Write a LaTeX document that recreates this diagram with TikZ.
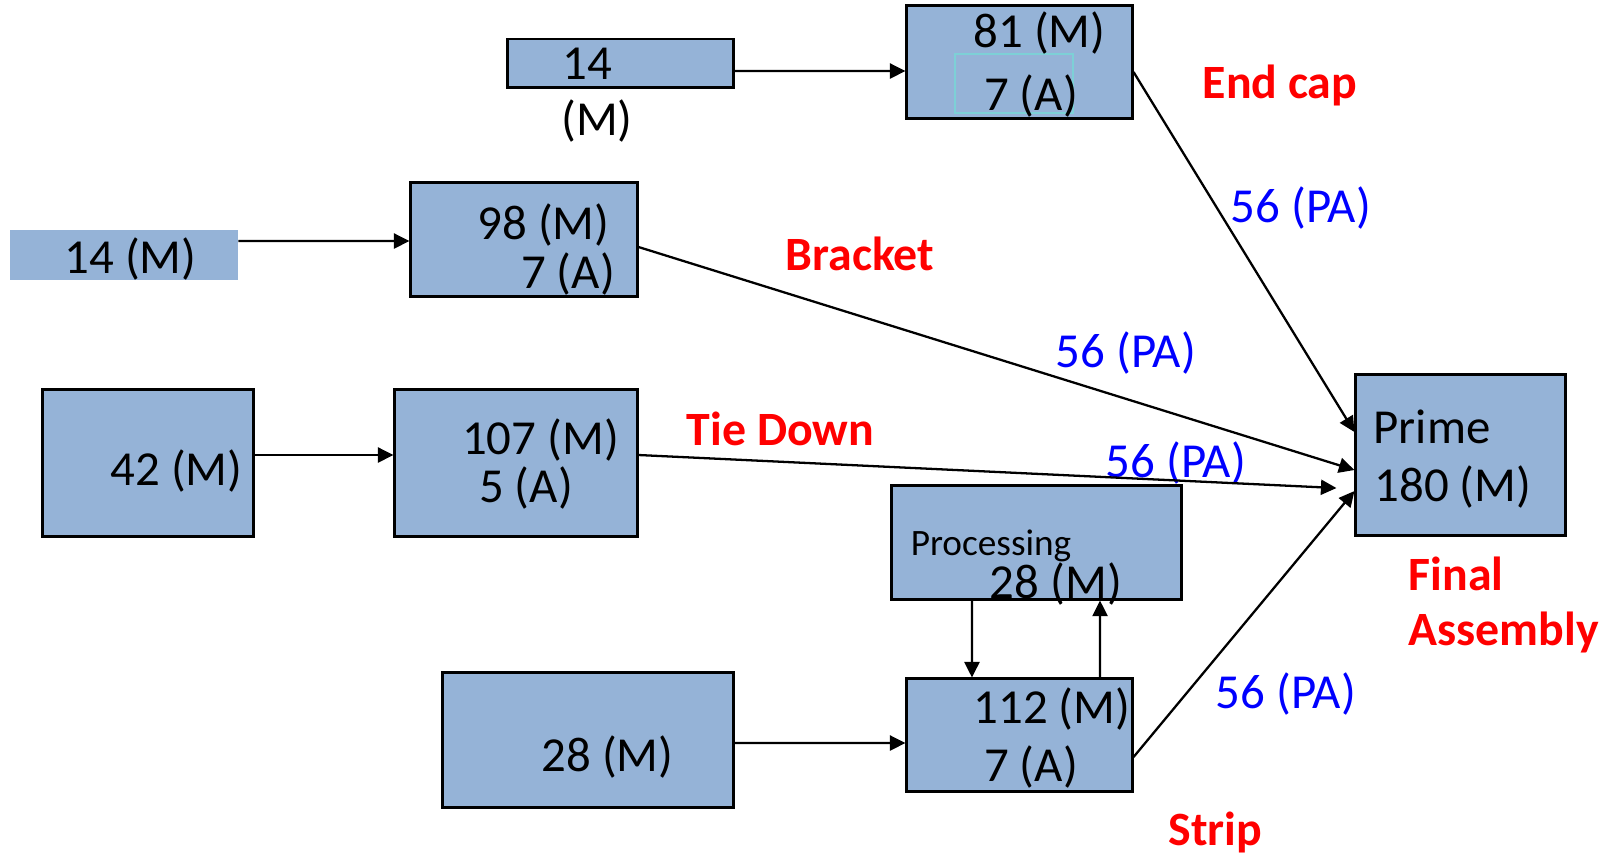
\documentclass[tikz,border=0pt]{standalone}
\usepackage{fontspec}
\setmainfont{Carlito}
\usetikzlibrary{arrows.meta, positioning}
\definecolor{partblue}{RGB}{149,179,215}
\definecolor{stagered}{RGB}{255,0,0}
\definecolor{flowblue}{RGB}{0,0,255}
\definecolor{paleteal}{RGB}{125,208,214}

\begin{document}
\begin{tikzpicture}[
    x=0.01cm, y=-0.01cm,
    box/.style={rectangle, draw=black, fill=partblue, line width=0.85pt, inner sep=0pt},
    plainbox/.style={rectangle, fill=partblue, inner sep=0pt},
    num/.style={inner sep=0pt, font=\fontsize{13.9}{16.7}\selectfont},
    smallnum/.style={inner sep=0pt, font=\fontsize{10.6}{12.7}\selectfont},
    stage/.style={inner sep=0pt, anchor=base west, text=stagered, font=\fontsize{13.6}{16.3}\selectfont\bfseries},
    flow/.style={inner sep=0pt, anchor=base west, text=flowblue, font=\fontsize{13.9}{16.7}\selectfont},
    arrow/.style={-{Triangle[length=0.155cm, width=0.15cm]}, line width=0.65pt}
]
\useasboundingbox (0,0) rectangle (1614,856);

% End cap line
\node[box, minimum width=2.25cm, minimum height=0.48cm] (top14) at (620.5,63) {};
\node[num] (top14n) at (587,63.5) {14};
\node[num] (top14m) at (597,121) {(M)};
\node[box, minimum width=2.25cm, minimum height=1.12cm] (endcap) at (1019.5,62) {};
\node[draw=paleteal, line width=0.5pt, minimum width=1.18cm, minimum height=0.59cm] (endcapmark) at (1014,83.5) {};
\node[num] (endcapm) at (1039.5,33) {81 (M)};
\node[num] (endcapa) at (1031,96) {7 (A)};

% Bracket line
\node[plainbox, minimum width=2.27cm, minimum height=0.5cm] (side14) at (124,255) {};
\node[num] (side14m) at (130.5,259) {14 (M)};
\node[box, minimum width=2.26cm, minimum height=1.13cm] (bracket) at (524,239.5) {};
\node[num] (bracketm) at (543.5,224.5) {98 (M)};
\node[num] (bracketa) at (568,274) {7 (A)};

% Tie down line
\node[box, minimum width=2.1cm, minimum height=1.46cm] (src42) at (148,463) {};
\node[num] (src42m) at (176.5,471) {42 (M)};
\node[box, minimum width=2.42cm, minimum height=1.46cm] (tiedown) at (516,463) {};
\node[num] (tiedownm) at (540.6,440) {107 (M)};
\node[num] (tiedowna) at (526,488) {5 (A)};

% Strip line with processing loop
\node[box, minimum width=2.89cm, minimum height=1.13cm] (proc) at (1036.5,542.5) {};
\node[smallnum] (proclabel) at (991,546) {Processing};
\node[num] (procm) at (1056,584) {28 (M)};
\node[box, minimum width=2.9cm, minimum height=1.34cm] (src28) at (588,740) {};
\node[num] (src28m) at (607.5,757) {28 (M)};
\node[box, minimum width=2.25cm, minimum height=1.12cm] (strip) at (1019.5,735) {};
\node[num] (stripm) at (1052,709) {112 (M)};
\node[num] (stripa) at (1031,767) {7 (A)};

% Final assembly
\node[box, minimum width=2.09cm, minimum height=1.6cm] (prime) at (1460.5,455) {};
\node[num] (primename) at (1432,427) {Prime};
\node[num] (primem) at (1453,487) {180 (M)};

% Stage names
\node[stage] (lblendcap) at (1202,98) {End cap};
\node[stage] (lblbracket) at (785,270) {Bracket};
\node[stage] (lbltiedown) at (686,445) {Tie Down};
\node[stage] (lblstrip) at (1168,845) {Strip};
\node[stage] (lblfinal) at (1408,590) {Final};
\node[stage] (lblassembly) at (1408,645) {Assembly};

% Flow quantities
\node[flow] (pa1) at (1230,222) {56 (PA)};
\node[flow] (pa2) at (1055,367) {56 (PA)};
\node[flow] (pa3) at (1105,477) {56 (PA)};
\node[flow] (pa4) at (1215,708) {56 (PA)};

% Arrows
\draw[arrow] ([yshift=-0.08cm]top14.east) -- ([yshift=-0.09cm]endcap.west);
\draw[arrow] ([yshift=-0.10cm]endcap.east) -- ([yshift=0.23cm]prime.west);
\draw[arrow] ([yshift=0.14cm]side14.east) -- ([yshift=-0.015cm]bracket.west);
\draw[arrow] ([yshift=-0.075cm]bracket.east) -- ([yshift=-0.15cm]prime.west);
\draw[arrow] ([yshift=0.08cm]src42.east) -- ([yshift=0.08cm]tiedown.west);
\draw[arrow] ([yshift=0.08cm]tiedown.east) -- ([xshift=-0.18cm, yshift=-0.33cm]prime.west);
\draw[arrow] ([yshift=-0.03cm]src28.east) -- ([yshift=-0.08cm]strip.west);
\draw[arrow] ([yshift=-0.22cm]strip.east) -- ([yshift=-0.36cm]prime.west);
\draw[arrow] ([xshift=-0.645cm]proc.south) -- ([xshift=-0.475cm]strip.north);
\draw[arrow] ([xshift=0.805cm]strip.north) -- ([xshift=0.635cm]proc.south);

\end{tikzpicture}
\end{document}
